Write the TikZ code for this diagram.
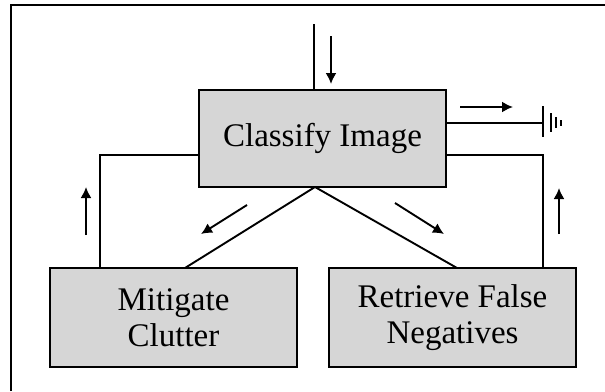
\documentclass[tikz,border=0pt]{standalone}
\usepackage{fontspec}
\setmainfont{Liberation Serif}
\usetikzlibrary{arrows.meta}
\begin{document}
\begin{tikzpicture}[x=1pt,y=-1pt,
  procbox/.style={draw=black,line width=2.2pt,fill=black!16,minimum width=247pt,align=center,font=\fontsize{33}{36}\selectfont,inner sep=0pt},
  wire/.style={line width=1.9pt},
  flowarrow/.style={line width=1.9pt,-{Latex[length=11pt,width=11pt]}}]
\useasboundingbox (0,0) rectangle (605,391);
\draw[line width=1.6pt] (11,391) -- (11,5) -- (605,5);
\node[procbox,minimum height=97pt] (c) at (322.5,138.5) {Classify Image};
\node[procbox,minimum height=99pt] (m) at (173.5,317.5) {Mitigate\\Clutter};
\node[procbox,minimum height=99pt] (r) at (452.5,317.5) {Retrieve False\\Negatives};
\coordinate (in) at (314,24);
\coordinate (apex) at (315,187);
\coordinate (gnd) at (543,123);
\draw[wire] (in) -- (in |- c.north);
\draw[wire] (apex) -- (185,268);
\draw[wire] (apex) -- (457,268);
\draw[wire] (c.west |- 0,155) -| (100,0 |- m.north);
\draw[wire] (c.east |- 0,155) -| (543,0 |- r.north);
\draw[wire] (c.east |- gnd) -- (gnd);
\draw[line width=2.2pt] (543,106) -- (543,137);
\draw[line width=2.2pt] (551,113) -- (551,132);
\draw[line width=2.2pt] (556,117) -- (556,128);
\draw[line width=1.8pt] (561,120) -- (561,126);
\draw[flowarrow] (331,36) -- (331,84);
\draw[flowarrow] (460,107) -- (513,107);
\draw[flowarrow] (86,235) -- (86,187);
\draw[flowarrow] (559,234) -- (559,188);
\draw[flowarrow] (247,205) -- (201,234);
\draw[flowarrow] (395,203) -- (444,234);
\end{tikzpicture}
\end{document}
